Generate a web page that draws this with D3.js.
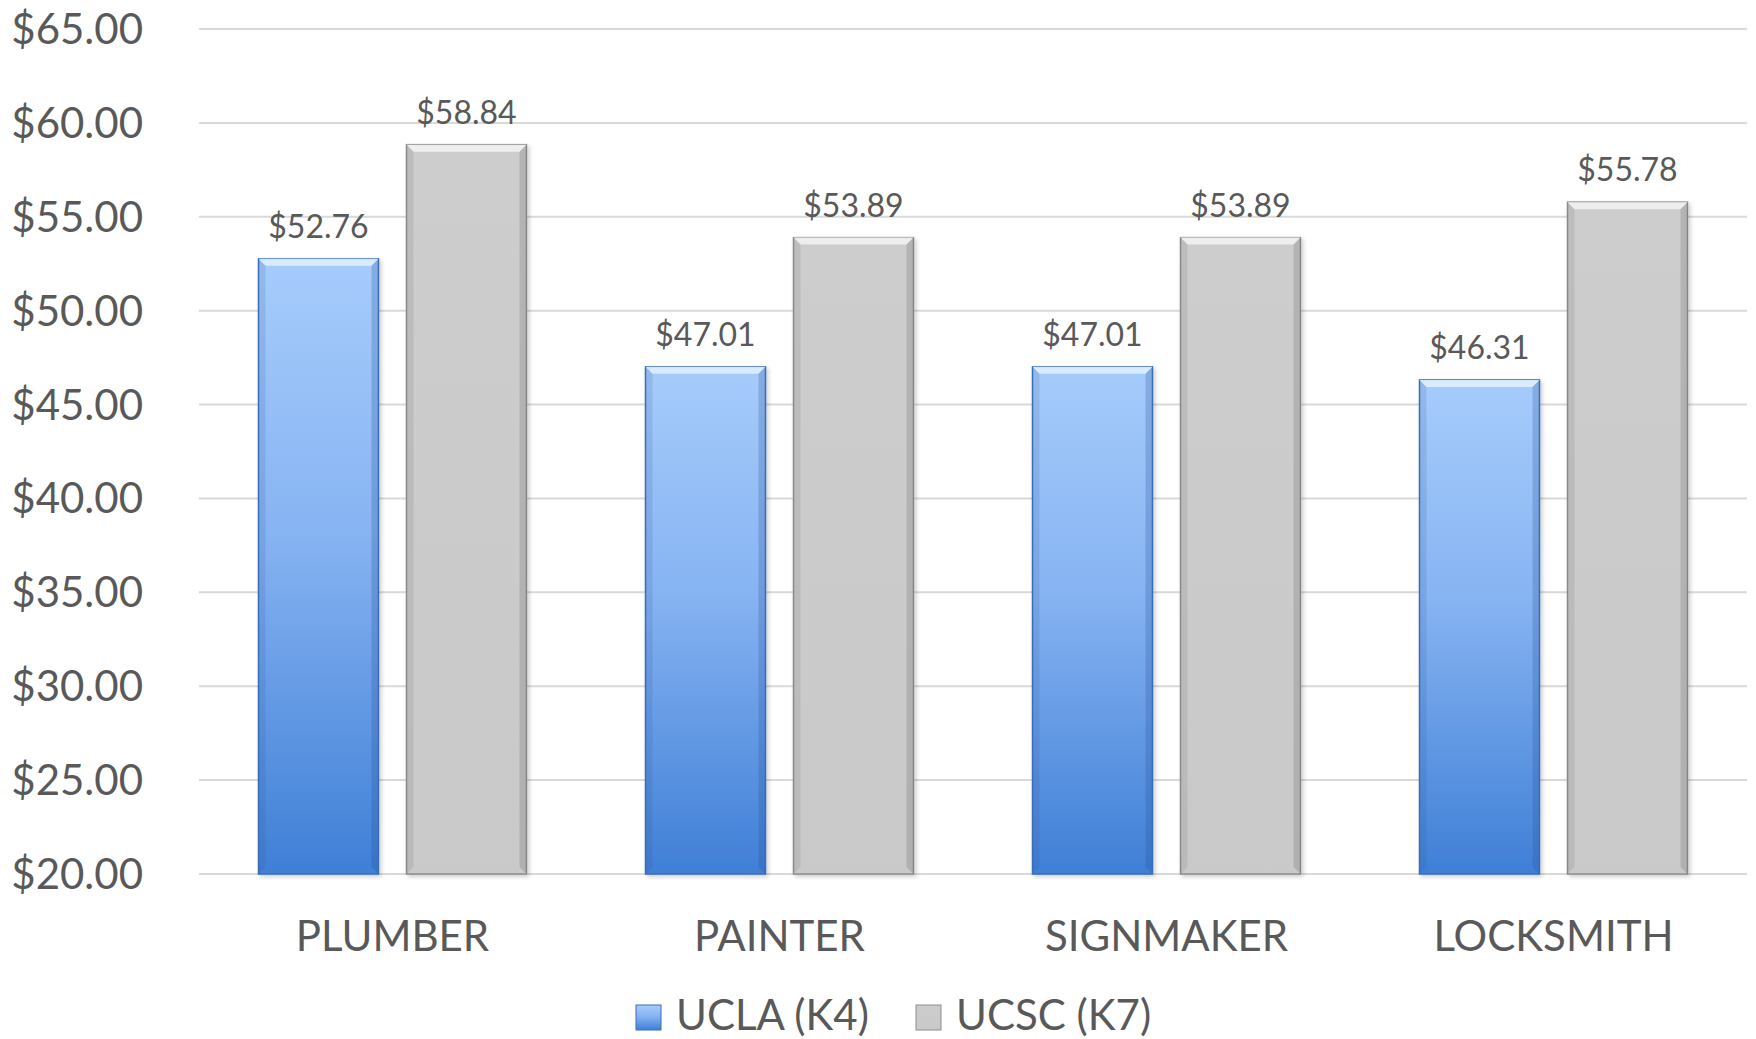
<!DOCTYPE html>
<html>
<head>
<meta charset="utf-8">
<script src="https://d3js.org/d3.v7.min.js"></script>
<style>
  body { margin: 0; background: #fff; }
  text { font-family: Lato, "Open Sans", sans-serif; fill: #595959; }
</style>
</head>
<body>
<div id="chart"></div>
<script>
// data
var categories = ["PLUMBER", "PAINTER", "SIGNMAKER", "LOCKSMITH"];
var seriesNames = ["UCLA (K4)", "UCSC (K7)"];
var ucla = [52.76, 47.01, 47.01, 46.31];
var ucsc = [58.84, 53.89, 53.89, 55.78];
var yTicks = [20, 25, 30, 35, 40, 45, 50, 55, 60, 65];

var W = 1756, H = 1039;
var plotL = 199, plotR = 1747, plotT = 29, plotB = 874;

var svg = d3.select("#chart").append("svg")
  .attr("width", W).attr("height", H);

var defs = svg.append("defs");
var blue = defs.append("linearGradient").attr("id", "gBlue")
  .attr("x1", 0).attr("y1", 0).attr("x2", 0).attr("y2", 1);
blue.append("stop").attr("offset", "0%").attr("stop-color", "#a6ccfb");
blue.append("stop").attr("offset", "45%").attr("stop-color", "#86b3f2");
blue.append("stop").attr("offset", "100%").attr("stop-color", "#3f7fd6");
var grey = defs.append("linearGradient").attr("id", "gGrey")
  .attr("x1", 0).attr("y1", 0).attr("x2", 0).attr("y2", 1);
grey.append("stop").attr("offset", "0%").attr("stop-color", "#cdcdcd");
grey.append("stop").attr("offset", "100%").attr("stop-color", "#c9c9c9");
var shadow = defs.append("filter").attr("id", "shadow")
  .attr("x", "-10%").attr("y", "-5%").attr("width", "130%").attr("height", "115%");
shadow.append("feDropShadow").attr("dx", 2).attr("dy", 2).attr("stdDeviation", 2)
  .attr("flood-color", "#000").attr("flood-opacity", 0.2);

var fills = ["url(#gBlue)", "url(#gGrey)"];
var strokes = ["#3b6fb8", "#8e8e8e"];
var tops = ["#dff0ff", "#f2f2f2"];
var sides = ["rgba(40,80,150,0.25)", "rgba(0,0,0,0.12)"];

var y = d3.scaleLinear().domain([20, 65]).range([plotB, plotT]);
var x0 = d3.scaleBand().domain(categories).range([plotL, plotR]);
var x1 = d3.scaleBand().domain(seriesNames).range([59.5, 327.5])
  .paddingInner(28 / 148).paddingOuter(0);

// gridlines
svg.append("g").selectAll("line").data(yTicks).join("line")
  .attr("x1", plotL).attr("x2", plotR)
  .attr("y1", d => y(d)).attr("y2", d => y(d))
  .attr("stroke", "#d9d9d9").attr("stroke-width", 2);

// y labels
svg.append("g").selectAll("text").data(yTicks).join("text")
  .attr("x", 143).attr("y", d => y(d) + 15)
  .attr("text-anchor", "end").style("font-size", "42px")
  .text(d => "$" + d.toFixed(2));

var rows = [];
categories.forEach(function (c, i) {
  rows.push({ cat: c, s: 0, v: ucla[i] });
  rows.push({ cat: c, s: 1, v: ucsc[i] });
});

var bars = svg.append("g").selectAll("g").data(rows).join("g")
  .attr("transform", d => "translate(" + (x0(d.cat) + x1(seriesNames[d.s])) + ",0)");

var bw = x1.bandwidth(), bev = 7;
bars.append("rect")
  .attr("x", 0).attr("y", d => y(d.v))
  .attr("width", bw).attr("height", d => plotB - y(d.v))
  .attr("fill", d => fills[d.s])
  .attr("stroke", d => strokes[d.s]).attr("stroke-width", 1.5)
  .attr("filter", "url(#shadow)");
// bevel: top highlight
bars.append("path")
  .attr("d", d => {
    var t = y(d.v);
    return "M0," + t + "L" + bw + "," + t + "L" + (bw - bev) + "," + (t + bev) + "L" + bev + "," + (t + bev) + "Z";
  })
  .attr("fill", d => tops[d.s]).attr("opacity", 0.9);
// bevel: sides
bars.append("path")
  .attr("d", d => {
    var t = y(d.v);
    return "M" + bw + "," + t + "L" + bw + "," + plotB + "L" + (bw - bev) + "," + (plotB - bev) + "L" + (bw - bev) + "," + (t + bev) + "Z";
  })
  .attr("fill", d => sides[d.s]);
bars.append("path")
  .attr("d", d => {
    var t = y(d.v);
    return "M0," + t + "L0," + plotB + "L" + bev + "," + (plotB - bev) + "L" + bev + "," + (t + bev) + "Z";
  })
  .attr("fill", d => sides[d.s]).attr("opacity", 0.6);

// value labels
bars.append("text")
  .attr("x", bw / 2).attr("y", d => y(d.v) - 21)
  .attr("text-anchor", "middle").style("font-size", "32px")
  .text(d => "$" + d.v.toFixed(2));

// category labels
svg.append("g").selectAll("text").data(categories).join("text")
  .attr("x", d => x0(d) + x0.bandwidth() / 2).attr("y", 951)
  .attr("text-anchor", "middle").style("font-size", "42px")
  .text(d => d);

// legend
var legX = [636, 916];
var leg = svg.append("g").selectAll("g").data(seriesNames).join("g")
  .attr("transform", (d, i) => "translate(" + legX[i] + ",1005)");
leg.append("rect").attr("width", 25).attr("height", 25)
  .attr("fill", (d, i) => fills[i]).attr("stroke", (d, i) => strokes[i]);
leg.append("text").attr("x", 40).attr("y", 25)
  .style("font-size", "42px").text(d => d);
</script>
</body>
</html>
